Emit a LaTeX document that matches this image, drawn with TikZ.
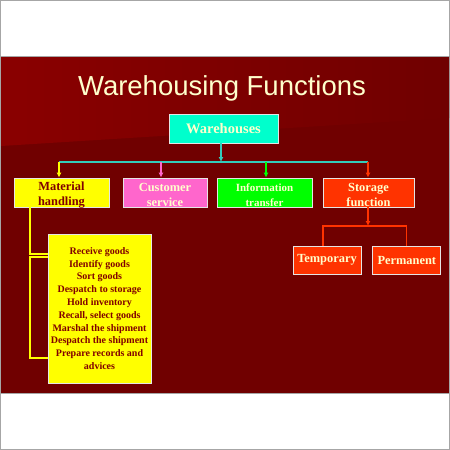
\documentclass[tikz,border=0pt]{standalone}
\usepackage{fontspec}
\setmainfont{Liberation Serif}
\newfontfamily\titlefont{Liberation Sans}
\usepackage{tikz}
\usetikzlibrary{arrows.meta,positioning}
\definecolor{slidered}{HTML}{700000}
\definecolor{lightred}{HTML}{8A0000}
\definecolor{cream}{HTML}{FFFFCC}
\definecolor{aqua}{HTML}{00FFCC}
\definecolor{aqualine}{HTML}{33CCBB}
\definecolor{pinkbox}{HTML}{FF66CC}
\definecolor{greenbox}{HTML}{00FF00}
\definecolor{redbox}{HTML}{FF3300}
\definecolor{yellowbox}{HTML}{FFFF00}
\definecolor{darktext}{HTML}{800000}

\begin{document}
\begin{tikzpicture}[x=1pt,y=-1pt,
	box/.style={draw=white!80!gray,line width=0.8pt,align=center,inner sep=0pt,
		font=\bfseries\fontsize{12.4}{15}\selectfont},
	twoline/.style n args={3}{label={[align=center,inner sep=0pt,yshift=-2.5pt,text=#1,
		font=\bfseries\fontsize{#2}{15}\selectfont]center:{#3}}},
	arrowtip/.style={-{Latex[length=5pt,width=5pt]}},
	conn/.style={line width=1.3pt}]
	% page and slide
	\useasboundingbox (0,0) rectangle (450,450);
	\draw[gray!70,line width=1pt] (0.5,0.5) rectangle (449.5,449.5);
	\fill[slidered] (1,56) rectangle (449,393);
	\shade[left color=lightred,right color=slidered] (1,56) -- (449,56) -- (449,118) -- (1,146) -- cycle;
	\draw[gray!70,line width=0.8pt] (1,56) -- (449,56) (1,393.5) -- (449,393.5);
	% title
	\node(title) at (222,88) [text=cream,font=\titlefont\fontsize{27.5}{30}\selectfont]{Warehousing Functions};
	% boxes
	\node(wh) at (223.5,128.5) [box,fill=aqua,text=cream,minimum width=109pt,minimum height=29pt,
		font=\bfseries\fontsize{14.5}{16}\selectfont]{Warehouses};
	\node(mh) at (61.5,192.5) [box,fill=yellowbox,minimum width=95pt,minimum height=29pt,
		twoline={darktext}{12.4}{Material\\handling}]{};
	\node(cs) at (165,192.5) [box,fill=pinkbox,minimum width=84pt,minimum height=29pt,
		twoline={cream}{12.4}{Customer\\service}]{};
	\node(it) at (264.5,192.5) [box,fill=greenbox,minimum width=95pt,minimum height=29pt,
		twoline={cream}{11}{Information\\transfer}]{};
	\node(sf) at (368.5,192.5) [box,fill=redbox,minimum width=91pt,minimum height=29pt,
		twoline={cream}{12.4}{Storage\\function}]{};
	\node(list) at (99.5,308.5) [box,fill=yellowbox,text=darktext,minimum width=103pt,minimum height=149pt,
		font=\bfseries\fontsize{10}{12.8}\selectfont]{Receive goods\\Identify goods\\Sort goods\\Despatch to storage\\Hold inventory\\Recall, select goods\\Marshal the shipment\\Despatch the shipment\\Prepare records and\\advices};
	\node(tmp) at (327,260) [box,fill=redbox,text=cream,minimum width=68pt,minimum height=28pt]{Temporary};
	\node(perm) [right=11pt of tmp,box,fill=redbox,text=cream,minimum width=68pt,minimum height=28pt]{Permanent};
	% bus under warehouses
	\coordinate(busl) at (59,162);
	\coordinate(busr) at (368,162);
	\coordinate(busm) at (221,162);
	\draw[conn,aqualine,arrowtip] ([xshift=-2.5pt]wh.south) -- (busm);
	\draw[conn,aqualine] (busl) -- (busr);
	\draw[conn,yellowbox,arrowtip] (busl) -- ([xshift=-2.5pt]mh.north);
	\draw[conn,pinkbox,arrowtip] ([xshift=-4pt]cs.north |- busl) -- ([xshift=-4pt]cs.north);
	\draw[conn,greenbox,arrowtip] ([xshift=1.5pt]it.north |- busl) -- ([xshift=1.5pt]it.north);
	\draw[conn,redbox,arrowtip] (busr) -- ([xshift=-0.5pt]sf.north);
	% material handling bracket
	\coordinate(mhs) at (30,207);
	\draw[conn,yellowbox] (mhs) -- (30,254) -- (list.west |- 0,254);
	\draw[conn,yellowbox] (list.west |- 0,257) -- (30,257) -- (30,358) -- (list.west |- 0,358);
	% storage split
	\coordinate(sj) at (368,226);
	\draw[conn,redbox,arrowtip] ([xshift=-0.5pt]sf.south) -- (sj);
	\draw[conn,redbox] ([xshift=-4pt]tmp.north) -- ([xshift=-4pt]tmp.north |- sj) -- (perm.north |- sj) -- (perm.north);
\end{tikzpicture}
\end{document}
